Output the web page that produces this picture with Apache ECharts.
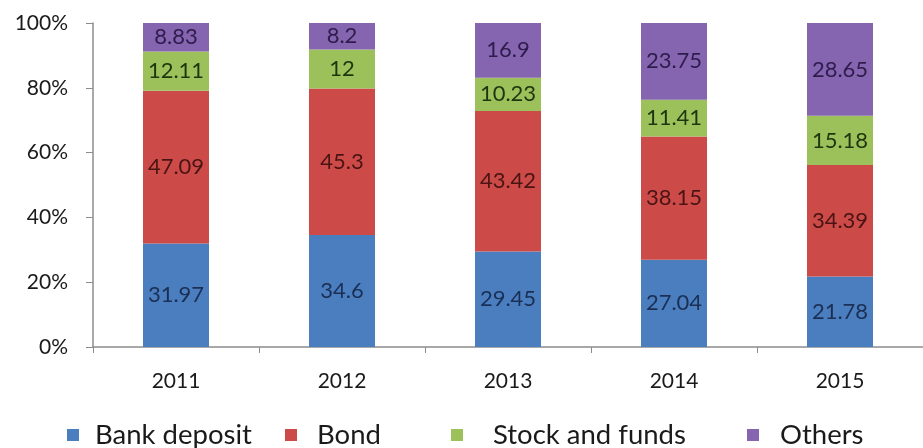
<!DOCTYPE html>
<html>
<head>
<meta charset="utf-8">
<script src="https://cdn.jsdelivr.net/npm/echarts@6/dist/echarts.min.js"></script>
<style>
  html, body { margin: 0; padding: 0; background: #fff; }
  #chart { width: 923px; height: 448px; }
</style>
</head>
<body>
<div id="chart"></div>
<script>
var years = ['2011', '2012', '2013', '2014', '2015'];
var bankDeposit = [31.97, 34.6, 29.45, 27.04, 21.78];
var bond = [47.09, 45.3, 43.42, 38.15, 34.39];
var stockFunds = [12.11, 12, 10.23, 11.41, 15.18];
var others = [8.83, 8.2, 16.9, 23.75, 28.65];
var yTicks = [0, 20, 40, 60, 80, 100];

var raw = [bankDeposit, bond, stockFunds, others];
var names = ['Bank deposit', 'Bond', 'Stock and funds', 'Others'];
var colors = ['#4a7ebf', '#cc4b48', '#9dc15a', '#8565b0'];
var labelColors = ['#1b2f55', '#4a1414', '#1f3510', '#2e1c4d'];
var legendLeft = [67, 285, 451, 747];
var legendPad = [16, 20, 30, 21];

// each bar is shown as share of 100%
var totals = years.map(function (y, i) {
  return raw.reduce(function (s, arr) { return s + arr[i]; }, 0);
});

var series = raw.map(function (arr, k) {
  return {
    name: names[k],
    type: 'bar',
    stack: 'total',
    barWidth: 66,
    data: arr.map(function (v, i) { return v / totals[i] * 100; }),
    itemStyle: { color: colors[k] },
    label: {
      show: true,
      position: 'inside',
      color: labelColors[k],
      fontSize: 22,
      fontFamily: 'Lato',
      formatter: function (p) { return String(arr[p.dataIndex]); }
    }
  };
});

var legends = names.map(function (n, k) {
  return {
    top: 421,
    left: legendLeft[k],
    padding: 0,
    itemWidth: 12,
    itemHeight: 12,
    icon: 'rect',
    textStyle: { fontSize: 27.5, fontFamily: 'Lato', color: '#1a1a1a', padding: [0, 0, 0, legendPad[k] - 5] },
    data: [n]
  };
});

var chart = echarts.init(document.getElementById('chart'));
chart.setOption({
  backgroundColor: '#fff',
  animation: false,
  grid: { left: 93, top: 23, width: 840, bottom: 101 },
  legend: legends,
  xAxis: {
    type: 'category',
    data: years,
    axisLine: { lineStyle: { color: '#8c8c8c', width: 1.5 } },
    axisTick: { show: true, length: 6, lineStyle: { color: '#8c8c8c' } },
    axisLabel: { fontSize: 21, fontFamily: 'Lato', color: '#1a1a1a', margin: 24 }
  },
  yAxis: {
    type: 'value',
    min: yTicks[0],
    max: yTicks[yTicks.length - 1],
    interval: 20,
    splitLine: { show: false },
    axisLine: { show: true, lineStyle: { color: '#8c8c8c', width: 1.5 } },
    axisTick: { show: true, length: 7, lineStyle: { color: '#8c8c8c' } },
    axisLabel: { fontSize: 21, fontFamily: 'Lato', color: '#1a1a1a', margin: 25, formatter: '{value}%' }
  },
  series: series
});
</script>
</body>
</html>
